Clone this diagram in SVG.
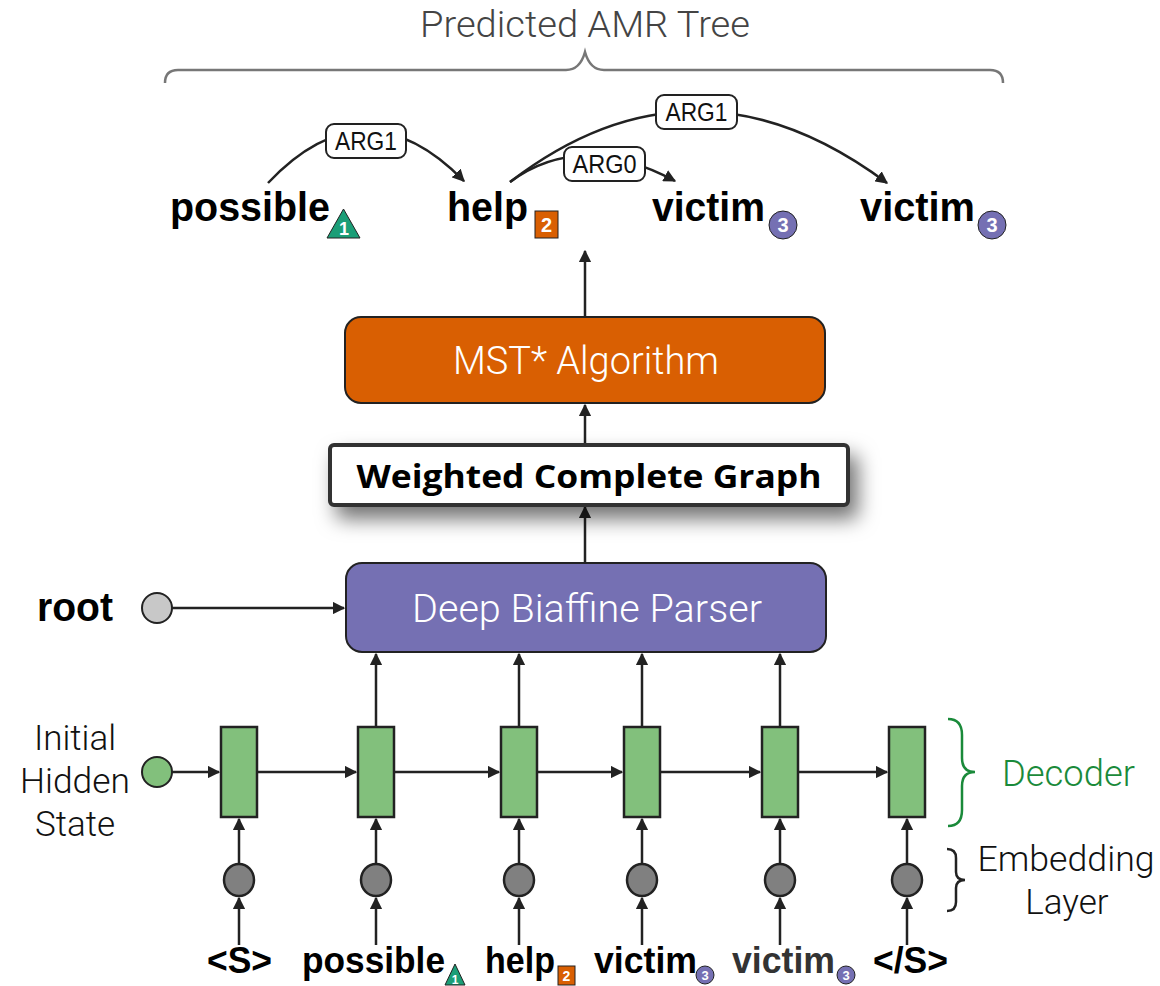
<svg xmlns="http://www.w3.org/2000/svg" width="1160" height="986" viewBox="0 0 1160 986">
<defs>
<marker id="ah" viewBox="0 0 10 10" refX="9" refY="5" markerWidth="5" markerHeight="5" orient="auto" markerUnits="strokeWidth">
<path d="M0,0 L10,5 L0,10 z" fill="#222"/>
</marker>
<filter id="shadow" x="-10%" y="-30%" width="130%" height="200%">
<feDropShadow dx="8" dy="12" stdDeviation="10" flood-color="#000" flood-opacity="0.55"/>
</filter>
<style>
.light{font-family:Roboto,"Liberation Sans",sans-serif;font-weight:300;}
.bold{font-family:"Liberation Sans",Arial,sans-serif;font-weight:bold;fill:#000;}
.conn{stroke:#222;stroke-width:2.5;fill:none;marker-end:url(#ah);}
.lbl{fill:#fff;stroke:#222;stroke-width:2;}
.lbltxt{font-family:"Liberation Sans",Arial,sans-serif;font-size:25px;fill:#111;text-anchor:middle;}
.cell{fill:#82c07c;stroke:#222;stroke-width:2.5;}
.emb{fill:#808080;stroke:#222;stroke-width:2.5;}
.num{font-family:"Liberation Sans",Arial,sans-serif;font-weight:bold;fill:#fff;text-anchor:middle;}
</style>
</defs>
<rect width="1160" height="986" fill="#fff"/>

<g id="title">
<text class="light" x="585" y="37" font-size="37" fill="#444" text-anchor="middle" textLength="330" lengthAdjust="spacingAndGlyphs">Predicted AMR Tree</text>
<path d="M165,83 Q165,70 178,70 L566,70 Q580,70 585,52 Q590,70 604,70 L990,70 Q1003,70 1003,83" fill="none" stroke="#777" stroke-width="2.5"/>
</g>

<g id="connectors">
<path class="conn" d="M268,183 Q365,80 464,181"/>
<path class="conn" d="M510,182 Q580,130 675,181"/>
<path class="conn" d="M510,182 Q695,40 887,183"/>
<line class="conn" x1="585" y1="317" x2="585" y2="251"/>
<line class="conn" x1="585" y1="445" x2="585" y2="405"/>
<line class="conn" x1="585" y1="563" x2="585" y2="507"/>
<line class="conn" x1="172" y1="608" x2="344" y2="608"/>
<line class="conn" x1="376" y1="727" x2="376" y2="654"/>
<line class="conn" x1="519" y1="727" x2="519" y2="654"/>
<line class="conn" x1="642" y1="727" x2="642" y2="654"/>
<line class="conn" x1="780" y1="727" x2="780" y2="654"/>
<line class="conn" x1="172" y1="772" x2="219" y2="772"/>
<line class="conn" x1="257" y1="772" x2="356" y2="772"/>
<line class="conn" x1="394" y1="772" x2="499" y2="772"/>
<line class="conn" x1="537" y1="772" x2="622" y2="772"/>
<line class="conn" x1="660" y1="772" x2="760" y2="772"/>
<line class="conn" x1="798" y1="772" x2="887" y2="772"/>
<line class="conn" x1="239" y1="863" x2="239" y2="819"/>
<line class="conn" x1="376" y1="863" x2="376" y2="819"/>
<line class="conn" x1="519" y1="863" x2="519" y2="819"/>
<line class="conn" x1="642" y1="863" x2="642" y2="819"/>
<line class="conn" x1="780" y1="863" x2="780" y2="819"/>
<line class="conn" x1="907" y1="863" x2="907" y2="819"/>
<line class="conn" x1="239" y1="945" x2="239" y2="898"/>
<line class="conn" x1="376" y1="945" x2="376" y2="898"/>
<line class="conn" x1="519" y1="945" x2="519" y2="898"/>
<line class="conn" x1="642" y1="945" x2="642" y2="898"/>
<line class="conn" x1="780" y1="945" x2="780" y2="898"/>
<line class="conn" x1="907" y1="945" x2="907" y2="898"/>
</g>

<g id="edge-labels">
<rect class="lbl" x="326" y="124" width="80" height="34" rx="8"/>
<text class="lbltxt" x="366" y="150" textLength="62" lengthAdjust="spacingAndGlyphs">ARG1</text>
<rect class="lbl" x="564" y="147" width="81" height="34" rx="8"/>
<text class="lbltxt" x="604.5" y="173" textLength="64" lengthAdjust="spacingAndGlyphs">ARG0</text>
<rect class="lbl" x="656" y="95" width="81" height="34" rx="8"/>
<text class="lbltxt" x="696.5" y="121" textLength="62" lengthAdjust="spacingAndGlyphs">ARG1</text>
</g>

<g id="tree-possible">
<text class="bold" x="170" y="221" font-size="40" textLength="160" lengthAdjust="spacingAndGlyphs">possible</text>
<polygon points="327,238 360,238 343.5,209" fill="#1b9e77" stroke="#222" stroke-width="1"/>
<text class="num" x="344" y="235" font-size="18">1</text>
</g>
<g id="tree-help">
<text class="bold" x="447" y="221" font-size="40" textLength="81" lengthAdjust="spacingAndGlyphs">help</text>
<rect x="535" y="211" width="23" height="27" fill="#d95f02" stroke="#222" stroke-width="1"/>
<text class="num" x="546.5" y="232" font-size="20">2</text>
</g>
<g id="tree-victim1">
<text class="bold" x="652" y="221" font-size="40" textLength="113" lengthAdjust="spacingAndGlyphs">victim</text>
<circle cx="783" cy="225" r="14" fill="#7570b3" stroke="#222" stroke-width="1"/>
<text class="num" x="783" y="232" font-size="20">3</text>
</g>
<g id="tree-victim2">
<text class="bold" x="860" y="221" font-size="40" textLength="115" lengthAdjust="spacingAndGlyphs">victim</text>
<circle cx="992" cy="225" r="14" fill="#7570b3" stroke="#222" stroke-width="1"/>
<text class="num" x="992" y="232" font-size="20">3</text>
</g>

<g id="mst">
<rect x="345" y="317" width="480" height="86" rx="16" fill="#d95f02" stroke="#222" stroke-width="2"/>
<text class="light" x="586" y="374" font-size="38" fill="#fff" text-anchor="middle" textLength="266" lengthAdjust="spacingAndGlyphs">MST* Algorithm</text>
</g>

<g id="weighted-graph">
<rect x="330" y="445" width="518" height="60" rx="4" fill="#fff" stroke="#333" stroke-width="4" filter="url(#shadow)"/>
<text x="589" y="488" font-family="'Open Sans','Noto Sans',sans-serif" font-weight="bold" font-size="32" fill="#000" text-anchor="middle" textLength="465" lengthAdjust="spacingAndGlyphs">Weighted Complete Graph</text>
</g>

<g id="biaffine">
<rect x="346" y="563" width="480" height="89" rx="16" fill="#7570b3" stroke="#222" stroke-width="2"/>
<text class="light" x="587" y="622" font-size="38" fill="#fff" text-anchor="middle" textLength="350" lengthAdjust="spacingAndGlyphs">Deep Biaffine Parser</text>
</g>

<g id="root">
<text class="bold" x="37" y="621" font-size="40" textLength="76" lengthAdjust="spacingAndGlyphs">root</text>
<circle cx="157" cy="608" r="15" fill="#c8c8c8" stroke="#222" stroke-width="2"/>
</g>

<g id="initial-state">
<text class="light" x="75" y="750" font-size="35" fill="#111" text-anchor="middle">Initial</text>
<text class="light" x="75" y="793" font-size="35" fill="#111" text-anchor="middle" textLength="110" lengthAdjust="spacingAndGlyphs">Hidden</text>
<text class="light" x="75" y="836" font-size="35" fill="#111" text-anchor="middle">State</text>
<circle cx="157" cy="772" r="15" fill="#82c07c" stroke="#222" stroke-width="2"/>
</g>

<g id="decoder-cells">
<rect class="cell" x="221" y="727" width="36" height="90"/>
<rect class="cell" x="358" y="727" width="36" height="90"/>
<rect class="cell" x="501" y="727" width="36" height="90"/>
<rect class="cell" x="624" y="727" width="36" height="90"/>
<rect class="cell" x="762" y="727" width="36" height="90"/>
<rect class="cell" x="889" y="727" width="36" height="90"/>
</g>

<g id="embeddings">
<ellipse class="emb" cx="239" cy="880" rx="15" ry="16"/>
<ellipse class="emb" cx="376" cy="880" rx="15" ry="16"/>
<ellipse class="emb" cx="519" cy="880" rx="15" ry="16"/>
<ellipse class="emb" cx="642" cy="880" rx="15" ry="16"/>
<ellipse class="emb" cx="780" cy="880" rx="15" ry="16"/>
<ellipse class="emb" cx="907" cy="880" rx="15" ry="16"/>
</g>

<g id="decoder-label">
<path d="M948,719 Q962,719 962,735 L962,758 Q962,772 975,772 Q962,772 962,786 L962,810 Q962,826 948,826" fill="none" stroke="#1a8a3a" stroke-width="2.5"/>
<text class="light" x="1002" y="786" font-size="36" fill="#1a8a3a" textLength="133" lengthAdjust="spacingAndGlyphs">Decoder</text>
</g>

<g id="embedding-label">
<path d="M947,849 Q956,849 956,858 L956,872 Q956,880 965,880 Q956,880 956,888 L956,902 Q956,911 947,911" fill="none" stroke="#222" stroke-width="2.5"/>
<text class="light" x="1066" y="871" font-size="35" fill="#111" text-anchor="middle" textLength="177" lengthAdjust="spacingAndGlyphs">Embedding</text>
<text class="light" x="1067" y="914" font-size="35" fill="#111" text-anchor="middle">Layer</text>
</g>

<g id="inputs">
<text class="bold" x="207" y="973" font-size="36" textLength="65" lengthAdjust="spacingAndGlyphs">&lt;S&gt;</text>
<text class="bold" x="302" y="973" font-size="36" textLength="143" lengthAdjust="spacingAndGlyphs">possible</text>
<polygon points="445,985 465,985 455,964" fill="#1b9e77" stroke="#222" stroke-width="1"/>
<text class="num" x="455" y="984" font-size="12">1</text>
<text class="bold" x="485" y="973" font-size="36" textLength="70" lengthAdjust="spacingAndGlyphs">help</text>
<rect x="558" y="966" width="17" height="19" fill="#d95f02" stroke="#222" stroke-width="1"/>
<text class="num" x="566.5" y="981" font-size="14">2</text>
<text class="bold" x="594" y="973" font-size="36" textLength="103" lengthAdjust="spacingAndGlyphs">victim</text>
<circle cx="705" cy="975" r="9" fill="#7570b3" stroke="#222" stroke-width="1"/>
<text class="num" x="705" y="980" font-size="13">3</text>
<text class="bold" x="732" y="973" font-size="36" textLength="103" lengthAdjust="spacingAndGlyphs" style="fill:#333">victim</text>
<circle cx="846" cy="975" r="9" fill="#7570b3" stroke="#222" stroke-width="1"/>
<text class="num" x="846" y="980" font-size="13">3</text>
<text class="bold" x="873" y="973" font-size="36" textLength="75" lengthAdjust="spacingAndGlyphs">&lt;/S&gt;</text>
</g>
</svg>
